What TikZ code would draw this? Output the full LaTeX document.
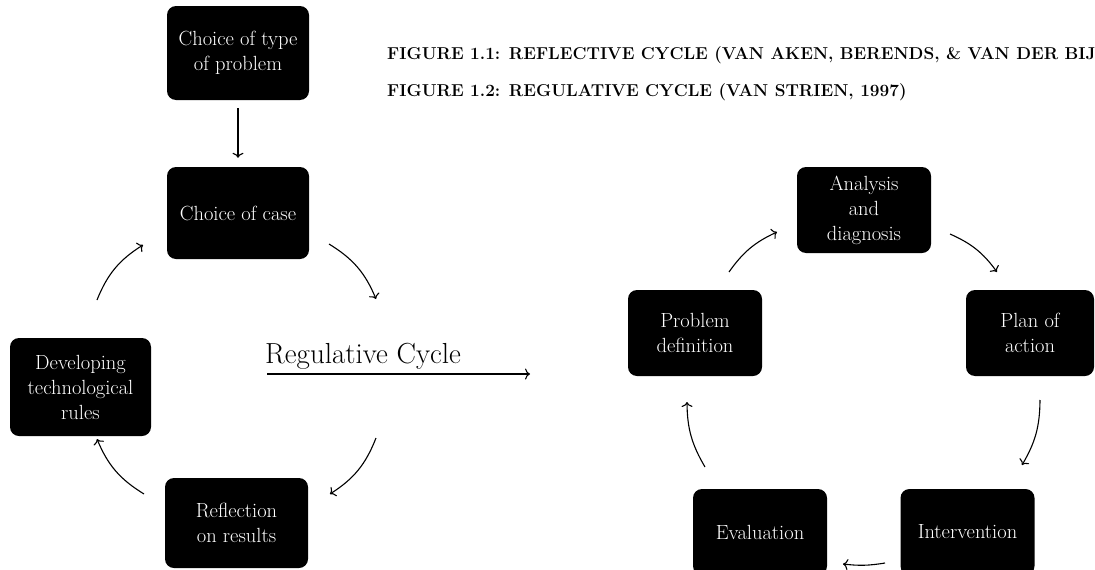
\documentclass[tikz,border=0pt]{standalone}
\usepackage{fontspec}
\usetikzlibrary{arrows.meta}
\tikzset{
  box/.style={fill=black, rounded corners=9pt, text=white, align=center,
    font=\fontsize{20.5}{25}\selectfont, minimum width=142pt, minimum height=92pt, inner sep=0pt},
  rbox/.style={box, minimum width=134pt, minimum height=86pt},
  arr/.style={line width=1.1pt, -{To[length=5pt,width=11pt]}},
  headtxt/.style={anchor=base west, inner sep=0pt,
    font=\bfseries\fontsize{17.2}{21}\selectfont\addfontfeatures{Numbers=OldStyle}}
}
\begin{document}
\begin{tikzpicture}[x=1pt,y=-1pt]
\useasboundingbox (0,0) rectangle (1095,570);
\clip (0,0) rectangle (1095,570);
\fill[white] (0,0) rectangle (1095,570);

% headings
\node[headtxt] (h1) at (387,59) {FIGURE 1.1: REFLECTIVE CYCLE (VAN AKEN, BERENDS, \& VAN DER BIJ};
\node[headtxt] (h2) at (387,96) {FIGURE 1.2: REGULATIVE CYCLE (VAN STRIEN, 1997)};

% left cycle
\node[box, minimum height=94pt] (A) at (238,53) {Choice of type\\of problem};
\node[box] (B) at (238,213) {Choice of case};
\node[box, minimum width=141pt, minimum height=98pt] (C) at (80.5,387) {Developing\\technological\\rules};
\node[box, minimum width=143pt, minimum height=90pt] (D) at (236.5,523) {Reflection\\on results};

\path (A.south) ++(0,8) coordinate (a1);
\path (B.north) ++(0,-9) coordinate (b1);
\draw[arr] (a1) -- (b1);

\coordinate (p1) at (329,244); \coordinate (p2) at (376,299);
\coordinate (p3) at (376,438); \coordinate (p4) at (330,494);
\coordinate (p5) at (144,494); \coordinate (p6) at (97,439);
\coordinate (p7) at (97,300);  \coordinate (p8) at (143,245);
\draw[arr] (p1) to[bend left=18] (p2);
\draw[arr] (p3) to[bend left=18] (p4);
\draw[arr] (p5) to[bend left=18] (p6);
\draw[arr] (p7) to[bend left=18] (p8);

% regulative cycle label and arrow
\node[anchor=base west, inner sep=0pt, font=\fontsize{29}{34}\selectfont] (rc) at (265,363) {Regulative Cycle};
\coordinate (r1) at (267,374); \coordinate (r2) at (530,374);
\draw[arr] (r1) -- (r2);

% right cycle
\node[rbox] (E) at (864,210) {Analysis\\and\\diagnosis};
\node[rbox] (F) at (695,333) {Problem\\definition};
\node[rbox, minimum width=128pt] (G) at (1030,333) {Plan of\\action};
\node[rbox] (H) at (760,532) {Evaluation};
\node[rbox] (I) at (967.5,532) {Intervention};

\coordinate (q1) at (729,272); \coordinate (q2) at (777,232);
\coordinate (q3) at (950,234); \coordinate (q4) at (997,272);
\coordinate (q5) at (1040,400); \coordinate (q6) at (1022,465);
\coordinate (q7) at (885,563); \coordinate (q8) at (843,564);
\coordinate (q9) at (705,467); \coordinate (q10) at (687,402);
\draw[arr] (q1) to[bend left=15] (q2);
\draw[arr] (q3) to[bend left=15] (q4);
\draw[arr] (q5) to[bend left=15] (q6);
\draw[arr] (q7) to[bend left=8] (q8);
\draw[arr] (q9) to[bend left=15] (q10);
\end{tikzpicture}
\end{document}
